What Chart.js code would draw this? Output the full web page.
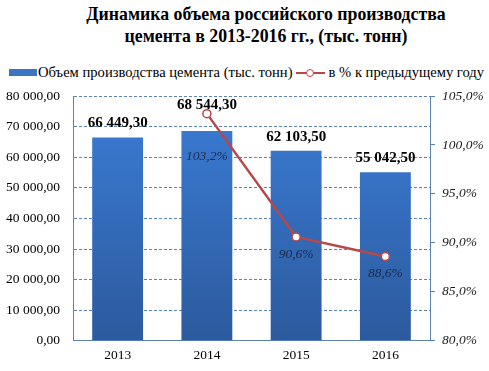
<!DOCTYPE html>
<html><head><meta charset="utf-8">
<script src="https://cdn.jsdelivr.net/npm/chart.js@4/dist/chart.umd.min.js"></script>
<style>
html,body{margin:0;padding:0;background:#fff;}
#wrap{position:relative;width:489px;height:371px;overflow:hidden;font-family:"Liberation Serif","Times New Roman",serif;}
#title{position:absolute;left:0;top:3px;width:532px;text-align:center;font-weight:bold;font-size:17.8px;line-height:22px;color:#000;}
#legend{position:absolute;left:9px;top:64px;font-size:14.6px;color:#000;white-space:nowrap;display:flex;align-items:center;}
.lb{display:inline-block;width:28px;height:7px;background:#3a76c4;margin-right:1px;}
.ll{display:inline-block;position:relative;width:29px;height:10px;margin:0 4px 0 3px;}
.ll:before{content:"";position:absolute;left:0;right:0;top:4px;height:2px;background:#b8474a;}
.ll:after{content:"";position:absolute;left:10px;top:1px;width:6px;height:6px;border:1.5px solid #b8474a;border-radius:50%;background:#fff;}
canvas{position:absolute;left:0;top:0;}
</style></head>
<body><div id="wrap">
<div id="title">Динамика объема российского производства<br>цемента в 2013-2016 гг., (тыс. тонн)</div>
<div id="legend"><span class="lb"></span>Объем производства цемента (тыс. тонн)<span class="ll"></span>в % к предыдущему году</div>
<canvas id="c" width="489" height="371"></canvas>
</div>
<script>
const categories = ['2013', '2014', '2015', '2016'];
const volume = [66449.30, 68544.30, 62103.50, 55042.50];
const percent = [null, 103.2, 90.6, 88.6];
const volumeName = 'Объем производства цемента (тыс. тонн)';
const percentName = 'в % к предыдущему году';

const serif = '"Liberation Serif","Times New Roman",serif';

function fmtNum(v, dec) {
  const s = v.toFixed(dec).split('.');
  const int = s[0].replace(/\B(?=(\d{3})+(?!\d))/g, ' ');
  return int + (s[1] !== undefined ? ',' + s[1] : '');
}

const barLabelOffsets = [0, -12, 0, 0];
const pctLabelOffsets = [0, 26, 0, 0];

const labelPlugin = {
  id: 'labels',
  afterDatasetsDraw(chart) {
    const ctx = chart.ctx;
    ctx.save();
    const bars = chart.getDatasetMeta(0).data;
    ctx.font = 'bold 15px ' + serif;
    ctx.fillStyle = '#000';
    ctx.textAlign = 'center';
    ctx.textBaseline = 'middle';
    bars.forEach((b, i) => {
      ctx.fillText(fmtNum(volume[i], 2), b.x, b.y - 14 + barLabelOffsets[i]);
    });
    const pts = chart.getDatasetMeta(1).data;
    ctx.font = 'italic 13.5px ' + serif;
    ctx.fillStyle = '#1c2a4a';
    pts.forEach((p, i) => {
      if (percent[i] == null) return;
      ctx.fillText(fmtNum(percent[i], 1) + '%', p.x, p.y + 17 + pctLabelOffsets[i]);
    });
    ctx.restore();
  }
};

new Chart(document.getElementById('c'), {
  data: {
    labels: categories,
    datasets: [
      {
        type: 'bar',
        label: volumeName,
        data: volume,
        yAxisID: 'y',
        order: 2,
        barPercentage: 0.57,
        categoryPercentage: 1,
        backgroundColor: (ctx) => {
          const ca = ctx.chart.chartArea;
          if (!ca) return '#3570c0';
          const g = ctx.chart.ctx.createLinearGradient(0, ca.top, 0, ca.bottom);
          g.addColorStop(0, '#3b7dd6');
          g.addColorStop(1, '#2c5a9e');
          return g;
        },
        borderWidth: 0
      },
      {
        type: 'line',
        label: percentName,
        data: percent,
        yAxisID: 'y1',
        order: 1,
        borderColor: '#b8474a',
        borderWidth: 2.5,
        pointBackgroundColor: '#fff',
        pointBorderColor: '#b8474a',
        pointBorderWidth: 1.5,
        pointRadius: 4,
        tension: 0
      }
    ]
  },
  options: {
    responsive: false,
    animation: false,
    devicePixelRatio: 1,
    layout: { padding: { top: 96, bottom: 0, left: 0, right: 0 } },
    plugins: { legend: { display: false }, title: { display: false }, tooltip: { enabled: false } },
    scales: {
      x: {
        grid: { display: false, drawTicks: false },
        border: { color: '#5b84b8', width: 1 },
        ticks: { color: '#000', font: { family: serif, size: 13.5 }, padding: 7 }
      },
      y: {
        position: 'left',
        min: 0, max: 80000,
        afterFit(s) { s.width = 73; },
        ticks: {
          stepSize: 10000,
          color: '#000',
          font: { family: serif, size: 13.5 },
          padding: 13,
          callback: (v) => fmtNum(v, 2)
        },
        grid: { color: '#5b84b8', drawTicks: false, tickLength: 0 },
        border: { color: '#5b84b8', dash: [3, 2] }
      },
      y1: {
        position: 'right',
        min: 80, max: 105,
        afterFit(s) { s.width = 59; },
        ticks: {
          stepSize: 5,
          color: '#1a1a1a',
          font: { family: serif, size: 13.5, style: 'italic' },
          padding: 7,
          callback: (v) => fmtNum(v, 1) + '%'
        },
        grid: { drawOnChartArea: false, color: '#5b84b8', tickLength: 5 },
        border: { color: '#5b84b8' }
      }
    }
  },
  plugins: [labelPlugin]
});
</script>
</body></html>
